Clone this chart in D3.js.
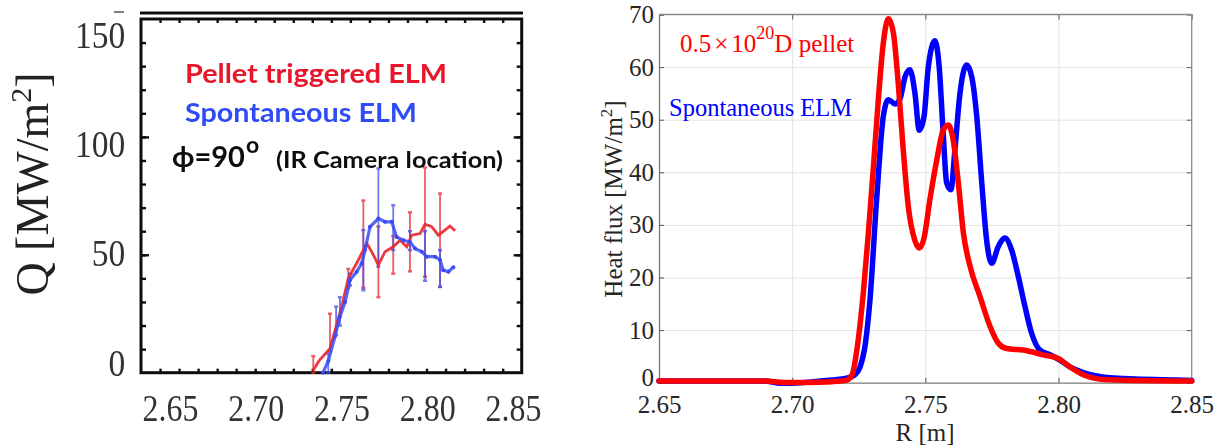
<!DOCTYPE html>
<html>
<head>
<meta charset="utf-8">
<script src="https://cdn.jsdelivr.net/npm/d3@7"></script>
<style>
body{margin:0;background:#fff}
svg{display:block}
</style>
</head>
<body>
<svg id="svg" width="1222" height="448"></svg>
<script>
// ---- left panel: IR camera measurement (scanned figure) ----
var pelletR = [2.7405, 2.7435, 2.7493, 2.7554, 2.7589, 2.7642, 2.7686, 2.7712, 2.7747, 2.7782, 2.7825, 2.7861, 2.7896, 2.7922, 2.7966, 2.7992, 2.8027, 2.8062, 2.8097, 2.8123, 2.8150];
var pelletQ = [1, 5, 10.3, 28, 40, 47.8, 54.8, 51.3, 45.6, 51.3, 53.4, 56.2, 53.4, 58.3, 59, 63, 61.9, 58.3, 60.5, 62.2, 60.2];
var spontR = [2.7456, 2.7484, 2.7519, 2.7545, 2.7572, 2.7598, 2.7633, 2.7659, 2.7677, 2.7703, 2.7747, 2.7782, 2.7817, 2.7843, 2.7878, 2.7913, 2.7939, 2.7975, 2.8001, 2.8045, 2.8071, 2.8088, 2.8115, 2.8141];
var spontQ = [0, 5, 15.3, 23.7, 30, 39.3, 42.8, 46.3, 52, 61.9, 65.4, 64, 64, 57.6, 56.2, 55.5, 52.7, 51.3, 49.2, 49.2, 47.8, 43.5, 42.8, 44.7];

var pelletBarR  = [2.7405, 2.7493, 2.7589, 2.7668, 2.7747, 2.7825, 2.7913, 2.7992, 2.8071];
var pelletBarLo = [0, 9, 36, 36, 32, 42, 43, 40.7, 36.4];
var pelletBarHi = [7, 25, 44, 73, 62, 58, 68, 87, 76];
var spontBarR  = [2.7484, 2.7525, 2.7545, 2.7598, 2.7668, 2.7747, 2.7825, 2.7913, 2.7992, 2.8071];
var spontBarLo = [0, 16, 20, 37, 35, 45, 52, 52, 39, 36.4];
var spontBarHi = [8, 28, 32, 42, 60.5, 86.6, 71, 60, 60, 52];

var leftXTicks = [2.65, 2.70, 2.75, 2.80, 2.85];
var leftYTicks = [0, 50, 100, 150];

// ---- right panel: simulated heat flux ----
var simPelletR = [2.65, 2.69, 2.697, 2.705, 2.715, 2.7205, 2.7225, 2.7245, 2.7267, 2.7286, 2.7305, 2.7323, 2.7342, 2.7361, 2.738, 2.7398, 2.7417, 2.7436, 2.7461, 2.7477, 2.7495, 2.7517, 2.7543, 2.7567, 2.7586, 2.7605, 2.7624, 2.7643, 2.7668, 2.7705, 2.7743, 2.7774, 2.7805, 2.7868, 2.7943, 2.7999, 2.8043, 2.8093, 2.8168, 2.8281, 2.85];
var simPelletQ = [0.3, 0.3, 0.05, 0.05, 0.2, 0.5, 1.5, 7, 17, 28.4, 41, 53.5, 64.5, 69.2, 66.5, 57, 44.3, 33.5, 27, 25.6, 27.5, 34.8, 42.4, 48, 49, 46, 37.9, 28.4, 22.1, 16.4, 10.7, 7.5, 6.5, 6.2, 5.3, 4.6, 3.0, 1.5, 0.6, 0.4, 0.3];
var simSpontR = [2.65, 2.69, 2.695, 2.70, 2.71, 2.72, 2.7235, 2.7255, 2.7275, 2.7292, 2.7317, 2.7342, 2.7361, 2.7386, 2.7405, 2.7424, 2.7442, 2.7461, 2.7477, 2.7495, 2.7511, 2.7536, 2.7552, 2.7567, 2.758, 2.7596, 2.7611, 2.763, 2.7655, 2.7674, 2.7693, 2.7712, 2.773, 2.7749, 2.7774, 2.7799, 2.7824, 2.7849, 2.7874, 2.7899, 2.793, 2.7968, 2.8005, 2.8043, 2.8093, 2.8193, 2.8443, 2.85];
var simSpontQ = [0.3, 0.3, -0.1, -0.1, 0.3, 0.8, 1.5, 3, 7.5, 15.7, 34.8, 50.6, 53.8, 53, 54, 58.2, 59.5, 55, 48, 50.6, 60, 65, 60, 47.4, 38, 36.7, 44.3, 55, 60.4, 58.2, 50.6, 37.9, 27.1, 22.7, 25.9, 27.5, 25.2, 20.2, 14.5, 9.4, 6.2, 5.3, 4.3, 3.0, 1.9, 0.95, 0.5, 0.4];

var rightXTicks = [2.65, 2.70, 2.75, 2.80, 2.85];
var rightYTicks = [0, 10, 20, 30, 40, 50, 60, 70];

var svg = d3.select("#svg");
var defs = svg.append("defs");
defs.append("filter").attr("id", "scan")
  .append("feGaussianBlur").attr("stdDeviation", 0.55);

/////////////// left
var xL = d3.scaleLinear().domain([2.65, 2.85]).range([141, 521.7]);
var yL = d3.scaleLinear().domain([0, 150]).range([372.7, 19]);
// the scanned labels sit a little off the tick marks
var xLlab = d3.scaleLinear().domain([2.65, 2.85]).range([170, 513]);
var yLlab = d3.scaleLinear().domain([0, 150]).range([363, 35]);

var L = svg.append("g").attr("filter", "url(#scan)");

var minorX = d3.range(266, 285).map(d => d / 100);
var minorY = d3.range(10, 150, 10);

function inkTicks(g) {
  g.select(".domain").remove();
  g.selectAll(".tick line").attr("stroke", "#111").attr("stroke-width", 2.4);
}

L.append("g").attr("transform", "translate(0,372.7)")
  .call(d3.axisBottom(xL).tickValues(minorX).tickSize(-4).tickFormat("")).call(inkTicks);
L.append("g").attr("transform", "translate(0,19)")
  .call(d3.axisTop(xL).tickValues(minorX).tickSize(-4).tickFormat("")).call(inkTicks);
L.append("g").attr("transform", "translate(141,0)")
  .call(d3.axisLeft(yL).tickValues(minorY).tickSize(-5).tickFormat("")).call(inkTicks);
L.append("g").attr("transform", "translate(521.7,0)")
  .call(d3.axisRight(yL).tickValues(minorY).tickSize(-5).tickFormat("")).call(inkTicks);
L.append("g").attr("transform", "translate(141,0)")
  .call(d3.axisLeft(yL).tickValues([50, 100]).tickSize(-8).tickFormat("")).call(inkTicks);
L.append("g").attr("transform", "translate(521.7,0)")
  .call(d3.axisRight(yL).tickValues([50, 100]).tickSize(-8).tickFormat("")).call(inkTicks);

// box + the stray line above it
L.append("rect").attr("x", 141).attr("y", 19).attr("width", 380.7).attr("height", 353.7)
  .attr("fill", "none").attr("stroke", "#111").attr("stroke-width", 3);
L.append("line").attr("x1", 140).attr("x2", 523).attr("y1", 13).attr("y2", 13)
  .attr("stroke", "#111").attr("stroke-width", 3);
L.append("line").attr("x1", 114).attr("x2", 124).attr("y1", 12).attr("y2", 12)
  .attr("stroke", "#555").attr("stroke-width", 1.5);

// tick labels
var lx = L.append("g").attr("transform", "translate(0,372.7)")
  .call(d3.axisBottom(xLlab).tickValues(leftXTicks).tickSize(0).tickPadding(21).tickFormat(d3.format(".2f")));
lx.select(".domain").remove();
lx.selectAll("text").attr("font-family", "Liberation Serif").attr("font-size", 38)
  .attr("fill", "#333").attr("transform", "scale(0.84,1)");
var ly = L.append("g").attr("transform", "translate(141,0)")
  .call(d3.axisLeft(yLlab).tickValues(leftYTicks).tickSize(0).tickPadding(18).tickFormat(d3.format("d")));
ly.select(".domain").remove();
ly.selectAll("text").attr("font-family", "Liberation Serif").attr("font-size", 38)
  .attr("fill", "#333").attr("transform", "scale(0.88,1)");

var qLab = L.append("text").attr("transform", "translate(48,184) rotate(-90)")
  .attr("text-anchor", "middle").attr("font-family", "Liberation Serif")
  .attr("font-size", 46).attr("fill", "#222");
qLab.append("tspan").text("Q [MW/m");
qLab.append("tspan").attr("dy", -17).attr("font-size", 30).text("2");
qLab.append("tspan").attr("dy", 17).text("]");

// error bars
function bars(R, lo, hi, color) {
  var g = L.append("g").attr("stroke", color).attr("stroke-width", 1.8).attr("opacity", 0.75);
  R.forEach(function(r, i) {
    g.append("line").attr("x1", xL(r)).attr("x2", xL(r)).attr("y1", yL(lo[i])).attr("y2", yL(hi[i]));
    [lo[i], hi[i]].forEach(function(v) {
      g.append("line").attr("x1", xL(r) - 2).attr("x2", xL(r) + 2).attr("y1", yL(v)).attr("y2", yL(v))
        .attr("stroke-width", 2.5);
    });
  });
}
bars(pelletBarR, pelletBarLo, pelletBarHi, "#e8262e");
bars(spontBarR, spontBarLo, spontBarHi, "#3a4cf2");

var lineL = d3.line().x(d => xL(d[0])).y(d => yL(d[1]));
L.append("path").datum(d3.zip(pelletR, pelletQ)).attr("d", lineL)
  .attr("fill", "none").attr("stroke", "#e8262e").attr("stroke-width", 2.8).attr("opacity", 0.9);
L.append("path").datum(d3.zip(spontR, spontQ)).attr("d", lineL)
  .attr("fill", "none").attr("stroke", "#3a4cf2").attr("stroke-width", 3.2).attr("opacity", 0.85);
L.append("g").selectAll("circle").data(d3.zip(spontR, spontQ)).join("circle")
  .attr("cx", d => xL(d[0])).attr("cy", d => yL(d[1])).attr("r", 2).attr("fill", "#3a4cf2");

// annotation text
L.append("text").attr("x", 185).attr("y", 83).attr("font-family", "Lato").attr("font-weight", 700)
  .attr("font-size", 26).attr("fill", "#e8192c").attr("textLength", 262).attr("lengthAdjust", "spacingAndGlyphs")
  .text("Pellet triggered ELM");
L.append("text").attr("x", 185).attr("y", 122).attr("font-family", "Lato").attr("font-weight", 700)
  .attr("font-size", 26).attr("fill", "#2e4bf5").attr("textLength", 232).attr("lengthAdjust", "spacingAndGlyphs")
  .text("Spontaneous ELM");
var phi = L.append("text").attr("x", 172).attr("y", 167).attr("font-weight", 700).attr("fill", "#111")
  .attr("font-family", "Lato, DejaVu Sans").attr("font-size", 29);
phi.append("tspan").text("ϕ=90");
phi.append("tspan").attr("dx", 1).attr("dy", -14).attr("font-size", 23).text("o");
L.append("text").attr("x", 276).attr("y", 168).attr("font-family", "Lato").attr("font-weight", 700)
  .attr("font-size", 22).attr("fill", "#111").attr("textLength", 227).attr("lengthAdjust", "spacingAndGlyphs")
  .text("(IR Camera location)");

/////////////// right
var xR = d3.scaleLinear().domain([2.65, 2.85]).range([659, 1191.7]);
var yR = d3.scaleLinear().domain([0, 70]).range([382.7, 14.5]);
var R = svg.append("g");
var pw = 532.7, ph = 368.2;

function grid(g) {
  g.select(".domain").remove();
  g.selectAll(".tick line").attr("stroke", "#e3e3e3").attr("stroke-width", 1);
}
R.append("g").attr("transform", "translate(0,382.7)")
  .call(d3.axisBottom(xR).tickValues(rightXTicks.slice(1, -1)).tickSize(-ph).tickFormat("")).call(grid);
R.append("g").attr("transform", "translate(659,0)")
  .call(d3.axisLeft(yR).tickValues(rightYTicks.slice(1, -1)).tickSize(-pw).tickFormat("")).call(grid);

function matTicks(g) {
  g.select(".domain").remove();
  g.selectAll(".tick line").attr("stroke", "#555").attr("stroke-width", 1);
}
R.append("g").attr("transform", "translate(0,14.5)")
  .call(d3.axisTop(xR).tickValues(rightXTicks).tickSize(-5).tickFormat("")).call(matTicks);
R.append("g").attr("transform", "translate(1191.7,0)")
  .call(d3.axisRight(yR).tickValues(rightYTicks).tickSize(-5).tickFormat("")).call(matTicks);

var ax = R.append("g").attr("transform", "translate(0,382.7)")
  .call(d3.axisBottom(xR).tickValues(rightXTicks).tickSize(-5).tickPadding(13).tickFormat(d3.format(".2f")));
var ay = R.append("g").attr("transform", "translate(659,0)")
  .call(d3.axisLeft(yR).tickValues(rightYTicks).tickSize(-5).tickPadding(5).tickFormat(d3.format("d")));
[ax, ay].forEach(function(a) {
  a.select(".domain").attr("stroke", "#7a7a7a").attr("stroke-width", 1.3);
  a.selectAll(".tick line").attr("stroke", "#555");
  a.selectAll("text").attr("font-family", "Liberation Serif").attr("font-size", 25).attr("fill", "#262626");
});
ay.selectAll(".tick text").filter(d => d === 0).attr("dy", "0.1em");
R.append("path").attr("d", "M659,14.5H1191.7V382.7").attr("fill", "none")
  .attr("stroke", "#8a8a8a").attr("stroke-width", 1.3);

var lineR = d3.line().x(d => xR(d[0])).y(d => yR(d[1])).curve(d3.curveMonotoneX);
R.append("path").datum(d3.zip(simSpontR, simSpontQ)).attr("d", lineR)
  .attr("fill", "none").attr("stroke", "#0000ff").attr("stroke-width", 5.5)
  .attr("stroke-linejoin", "round").attr("stroke-linecap", "round");
R.append("path").datum(d3.zip(simPelletR, simPelletQ)).attr("d", lineR)
  .attr("fill", "none").attr("stroke", "#ff0000").attr("stroke-width", 5.5)
  .attr("stroke-linejoin", "round").attr("stroke-linecap", "round");

// titles
R.append("text").attr("x", 925).attr("y", 441).attr("text-anchor", "middle")
  .attr("font-family", "Liberation Serif").attr("font-size", 25).attr("fill", "#262626").text("R [m]");
var hf = R.append("text").attr("transform", "translate(622,199) rotate(-90)").attr("text-anchor", "middle")
  .attr("font-family", "Liberation Serif").attr("font-size", 25).attr("fill", "#262626");
hf.append("tspan").text("Heat flux [MW/m");
hf.append("tspan").attr("dy", -10).attr("font-size", 17).text("2");
hf.append("tspan").attr("dy", 10).text("]");

var leg = R.append("text").attr("x", 680).attr("y", 52)
  .attr("font-family", "Liberation Serif").attr("font-size", 25).attr("fill", "#ff0000");
leg.append("tspan").text("0.5");
leg.append("tspan").attr("dx", 3).text("×");
leg.append("tspan").attr("dx", 3).text("10");
leg.append("tspan").attr("dy", -13).attr("font-size", 18).text("20");
leg.append("tspan").attr("dy", 13).text("D pellet");
R.append("text").attr("x", 669).attr("y", 116)
  .attr("font-family", "Liberation Serif").attr("font-size", 24.5).attr("fill", "#0000ff").text("Spontaneous ELM");
</script>
</body>
</html>
